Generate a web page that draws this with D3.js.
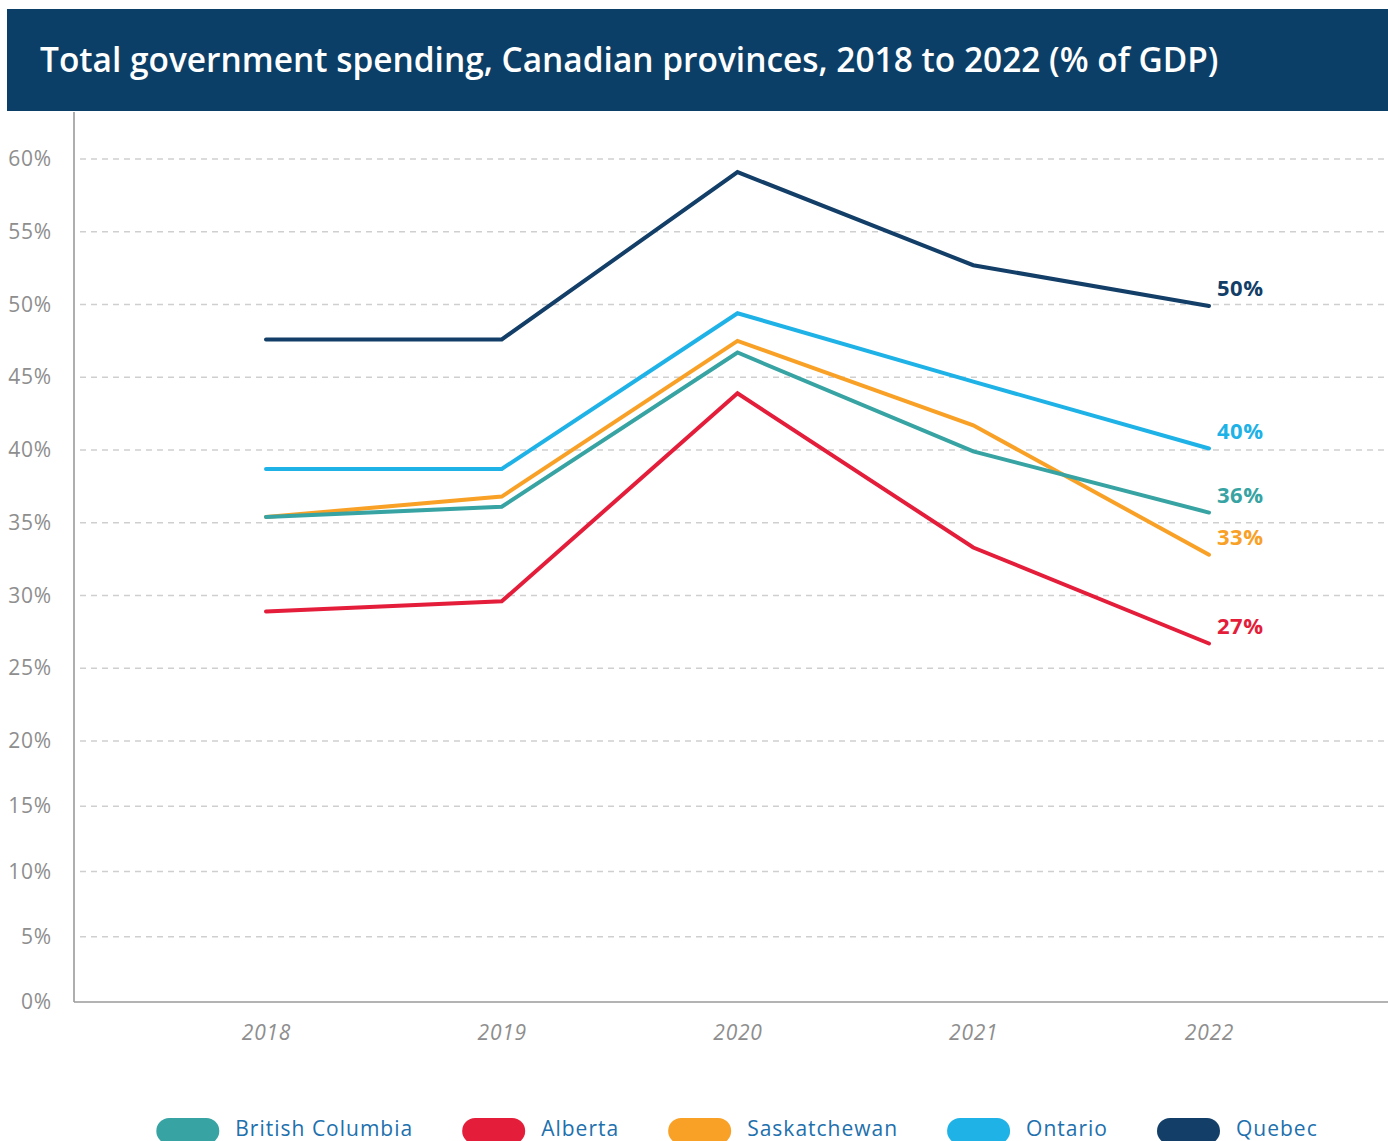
<!DOCTYPE html>
<html>
<head>
<meta charset="utf-8">
<script src="https://cdn.jsdelivr.net/npm/d3@7"></script>
<style>
  html, body { margin: 0; padding: 0; background: #ffffff; }
  svg { display: block; }
</style>
</head>
<body>
<svg id="chart" width="1388" height="1141"></svg>
<script>
// Total government spending as a share of GDP, by province
const years = [2018, 2019, 2020, 2021, 2022];
const provinces = ["British Columbia", "Alberta", "Saskatchewan", "Ontario", "Quebec"];
const britishColumbia = [35.4, 36.1, 46.7, 39.9, 35.7];
const alberta         = [28.9, 29.6, 43.9, 33.3, 26.7];
const saskatchewan    = [35.4, 36.8, 47.5, 41.7, 32.8];
const ontario         = [38.7, 38.7, 49.4, 44.7, 40.1];
const quebec          = [47.6, 47.6, 59.1, 52.7, 49.9];
const yTicks = [0, 5, 10, 15, 20, 25, 30, 35, 40, 45, 50, 55, 60];
const colors = ["#37a3a3", "#e41d3a", "#f8a126", "#1eb2e7", "#123e68"];

const titleText = "Total government spending, Canadian provinces, 2018 to 2022 (% of GDP)";
const FONT = "'Open Sans', 'Noto Sans', sans-serif";

const series = provinces.map((name, i) => ({
  name,
  color: colors[i],
  values: [britishColumbia, alberta, saskatchewan, ontario, quebec][i]
}));

const svg = d3.select("#chart");

// header band
svg.append("rect")
  .attr("x", 7).attr("y", 9)
  .attr("width", 1381).attr("height", 102)
  .attr("fill", "#0c3f67");

const title = svg.append("text")
  .attr("x", 40).attr("y", 72)
  .attr("fill", "#ffffff")
  .attr("font-family", FONT)
  .attr("font-weight", 600)
  .attr("font-size", 32)
  .text(titleText);
// size the title so it spans the band the same way at any font fallback
const tw = title.node().getComputedTextLength();
title.attr("font-size", 32 * 1179 / tw);

// scales
const x = d3.scalePoint().domain(years).range([266, 1209]);
const y = d3.scaleLinear().domain([0, 20, 60]).range([1002, 741, 159]);

// gridlines
svg.append("g")
  .selectAll("line")
  .data(yTicks.filter(d => d > 0))
  .join("line")
  .attr("x1", 80).attr("x2", 1388)
  .attr("y1", d => y(d)).attr("y2", d => y(d))
  .attr("stroke", "#cfcfcf")
  .attr("stroke-width", 1.3)
  .attr("stroke-dasharray", "6,5");

// y axis
const yAxis = svg.append("g")
  .attr("transform", "translate(74,0)")
  .call(d3.axisLeft(y).tickValues(yTicks).tickSize(0).tickPadding(22).tickFormat(d => d + "%"));
yAxis.select(".domain").remove();
yAxis.selectAll("text")
  .attr("fill", "#8e8e8e")
  .attr("font-family", FONT)
  .attr("font-weight", 400)
  .attr("font-size", 21)
  .attr("letter-spacing", 0.8);

// axis lines
svg.append("line")
  .attr("x1", 74).attr("x2", 74).attr("y1", 112).attr("y2", 1002)
  .attr("stroke", "#9a9a9a").attr("stroke-width", 1.6);
svg.append("line")
  .attr("x1", 74).attr("x2", 1388).attr("y1", 1002).attr("y2", 1002)
  .attr("stroke", "#9a9a9a").attr("stroke-width", 1.6);

// x axis labels
const xAxis = svg.append("g")
  .attr("transform", "translate(0,1002)")
  .call(d3.axisBottom(x).tickSize(0).tickPadding(23));
xAxis.select(".domain").remove();
xAxis.selectAll("text")
  .attr("fill", "#8e8e8e")
  .attr("font-family", FONT)
  .attr("font-style", "italic")
  .attr("font-size", 21)
  .attr("letter-spacing", 0.8);

// lines
const line = d3.line()
  .x((d, i) => x(years[i]))
  .y(d => y(d));

const drawOrder = [4, 3, 2, 1, 0];
svg.append("g")
  .selectAll("path")
  .data(drawOrder.map(i => series[i]))
  .join("path")
  .attr("d", d => line(d.values))
  .attr("fill", "none")
  .attr("stroke", d => d.color)
  .attr("stroke-width", 4)
  .attr("stroke-linecap", "round")
  .attr("stroke-linejoin", "miter");

// end labels
svg.append("g")
  .selectAll("text")
  .data(series)
  .join("text")
  .attr("x", x(years[years.length - 1]) + 8)
  .attr("y", d => y(d.values[d.values.length - 1]) - 10)
  .attr("fill", d => d.color)
  .attr("font-family", FONT)
  .attr("font-weight", 700)
  .attr("font-size", 22)
  .attr("letter-spacing", 0.5)
  .text(d => Math.round(d.values[d.values.length - 1]) + "%");

// legend
const legend = svg.append("g");
const items = legend.selectAll("g")
  .data(series)
  .join("g");
items.append("rect")
  .attr("y", 1118)
  .attr("width", 63).attr("height", 26)
  .attr("rx", 13)
  .attr("fill", d => d.color);
items.append("text")
  .attr("x", 79)
  .attr("y", 1136)
  .attr("fill", "#2170ad")
  .attr("font-family", FONT)
  .attr("font-size", 21)
  .attr("letter-spacing", 1)
  .text(d => d.name);

const widths = [];
items.each(function () {
  const w = 79 + d3.select(this).select("text").node().getComputedTextLength();
  widths.push(w);
});
const gap = 49;
const total = d3.sum(widths) + gap * (widths.length - 1);
let cursor = 737 - total / 2;
items.each(function (d, i) {
  d3.select(this).attr("transform", `translate(${cursor},0)`);
  cursor += widths[i] + gap;
});
</script>
</body>
</html>
